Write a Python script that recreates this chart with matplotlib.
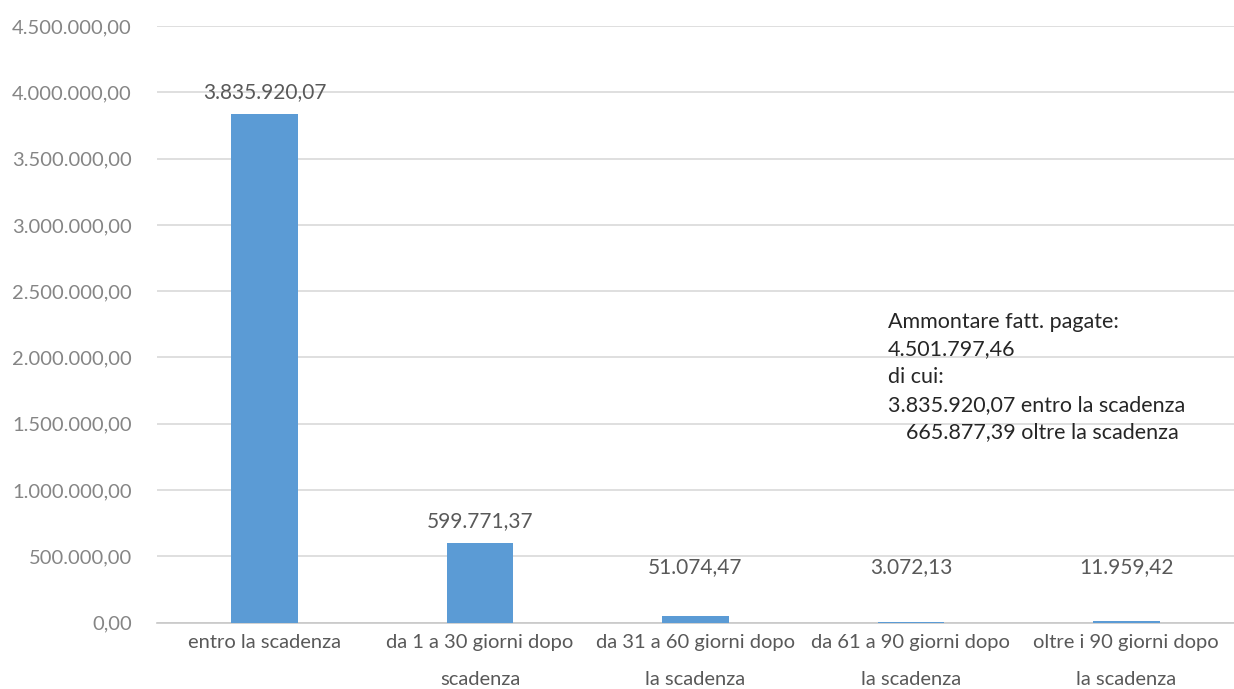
import matplotlib
matplotlib.use("Agg")
import matplotlib.pyplot as plt
from matplotlib.ticker import FuncFormatter

categories = ["entro la scadenza",
              "da 1 a 30 giorni dopo\nscadenza",
              "da 31 a 60 giorni dopo\nla scadenza",
              "da 61 a 90 giorni dopo\nla scadenza",
              "oltre i 90 giorni dopo\nla scadenza"]
values = [3835920.07, 599771.37, 51074.47, 3072.13, 11959.42]
yticks = [0, 500000, 1000000, 1500000, 2000000, 2500000, 3000000, 3500000, 4000000, 4500000]
note_lines = ["Ammontare fatt. pagate:", "4.501.797,46", "di cui:",
              "3.835.920,07 entro la scadenza"]
note_last = "665.877,39 oltre la scadenza"


def it_fmt(v, decimals=2):
    s = f"{v:,.{decimals}f}"
    return s.replace(",", "X").replace(".", ",").replace("X", ".")


plt.rcParams['font.family'] = ['Lato', 'DejaVu Sans']

fig = plt.figure(figsize=(12.34, 6.89), dpi=100)
ax = fig.add_axes([0.1272, 0.0962, 0.8728, 0.8661])

x = list(range(len(values)))
ax.bar(x, values, width=0.31, color="#5B9BD5", zorder=3)
ax.set_xlim(-0.5, len(values) - 0.5)
ax.set_ylim(0, 4500000)
ax.set_yticks(yticks)
ax.yaxis.set_major_formatter(FuncFormatter(lambda v, p: it_fmt(v)))
ax.grid(axis="y", color="#d9d9d9", linewidth=1.2, zorder=0)
for s in ["top", "right", "left"]:
    ax.spines[s].set_visible(False)
ax.spines["bottom"].set_color("#c8c8c8")
ax.spines["bottom"].set_linewidth(1.2)
ax.tick_params(axis="y", length=0, pad=18, labelsize=14.5, labelcolor="#858585")
ax.tick_params(axis="x", length=0, pad=8, labelsize=14.5, labelcolor="#595959")
ax.set_xticks(x)
ax.set_xticklabels(categories, linespacing=2.45)

# pixel helpers (axes spans 596.7 px for 4.5M)
px_per_unit_y = 4500000 / (622.7 - 26)
def ypix(p):
    return (622.7 - p) * px_per_unit_y
def xpix(p):
    return (p - 264.5) / 215.5

for xi, v in zip(x, values):
    ly = max(v + 22 * px_per_unit_y, ypix(567))
    ax.text(xi, ly, it_fmt(v), ha="center", va="center", fontsize=15, color="#595959")

for i, line in enumerate(note_lines):
    ax.text(xpix(888), ypix(321.7 + 27.7 * i), line, ha="left", va="center",
            fontsize=15.5, color="#262626")
ax.text(xpix(906), ypix(321.7 + 27.7 * 4), note_last, ha="left", va="center",
        fontsize=15.5, color="#262626")

fig.savefig("out.png", dpi=100)
